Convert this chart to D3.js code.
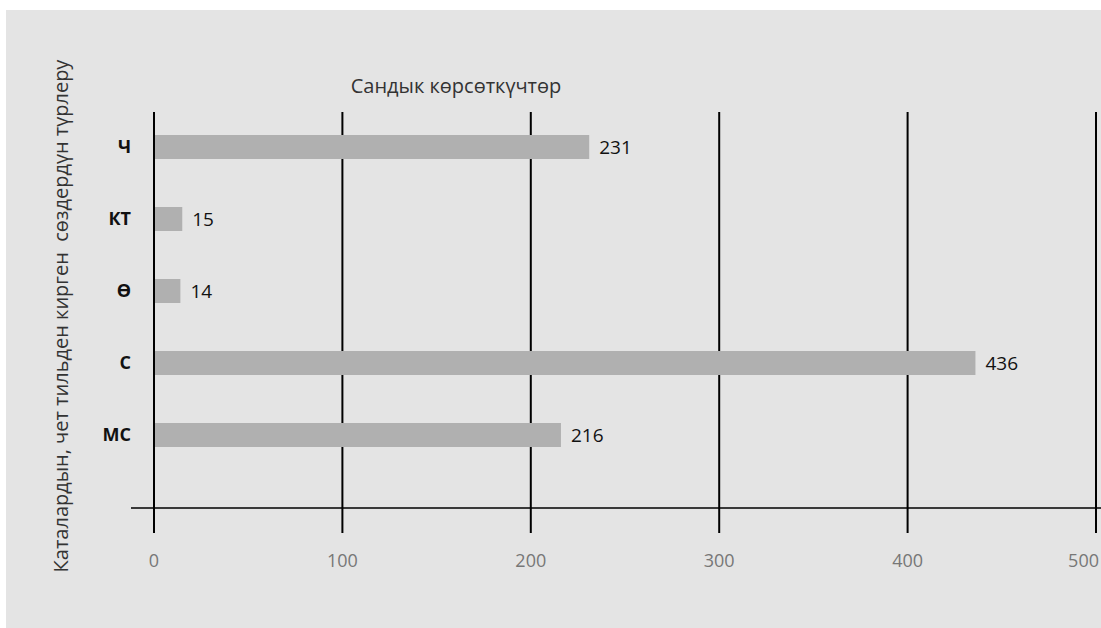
<!DOCTYPE html>
<html>
<head>
<meta charset="utf-8">
<script src="https://cdn.jsdelivr.net/npm/d3@7"></script>
<style>
    body { margin: 0; background: #fff; }
    svg { display: block; font-family: "Open Sans", "Noto Sans", sans-serif; }
</style>
</head>
<body>
<svg id="chart"></svg>
<script>
// data
const categories = ["Ч", "КТ", "Ө", "С", "МС"];
const values = [231, 15, 14, 436, 216];
const ticks = [0, 100, 200, 300, 400, 500];
const xTitle = "Сандык көрсөткүчтөр";
const yTitle = "Каталардын, чет тильден кирген  сөздердүн түрлеру";

const width = 1101, height = 628;

const svg = d3.select("#chart")
    .attr("width", width)
    .attr("height", height);

// grey panel
svg.append("rect")
    .attr("x", 6).attr("y", 10)
    .attr("width", width - 6).attr("height", height - 10)
    .attr("fill", "#e4e4e4");

const xScale = d3.scaleLinear().domain([0, 500]).range([154, 1096]);
const yScale = d3.scaleBand()
    .domain(categories)
    .range([111, 471])
    .paddingInner(2 / 3)
    .paddingOuter(1 / 3);

const axisY = 508;

// vertical grid lines (run through the axis as ticks)
svg.append("g")
    .selectAll("line")
    .data(ticks)
    .join("line")
    .attr("x1", d => xScale(d)).attr("x2", d => xScale(d))
    .attr("y1", 112).attr("y2", 533)
    .attr("stroke", "#000")
    .attr("stroke-width", 2);

// horizontal axis line
svg.append("line")
    .attr("x1", 131).attr("x2", width)
    .attr("y1", axisY).attr("y2", axisY)
    .attr("stroke", "#000")
    .attr("stroke-width", 1.6);

// tick labels
svg.append("g")
    .selectAll("text")
    .data(ticks)
    .join("text")
    .attr("x", d => d === 500 ? width - 2 : xScale(d))
    .attr("y", 567)
    .attr("text-anchor", d => d === 500 ? "end" : "middle")
    .attr("font-size", 18)
    .attr("fill", "#777")
    .text(d => d);

// bars
const rows = categories.map((c, i) => ({ cat: c, value: values[i] }));

svg.append("g")
    .selectAll("rect")
    .data(rows)
    .join("rect")
    .attr("x", xScale(0) + 1)
    .attr("y", d => yScale(d.cat))
    .attr("width", d => xScale(d.value) - xScale(0) - 1)
    .attr("height", yScale.bandwidth())
    .attr("fill", "#b0b0b0");

// value labels
svg.append("g")
    .selectAll("text")
    .data(rows)
    .join("text")
    .attr("x", d => xScale(d.value) + 10)
    .attr("y", d => yScale(d.cat) + yScale.bandwidth() / 2)
    .attr("dy", "0.35em")
    .attr("font-size", 19)
    .attr("fill", "#111")
    .text(d => d.value);

// category labels
svg.append("g")
    .selectAll("text")
    .data(rows)
    .join("text")
    .attr("x", 131)
    .attr("y", d => yScale(d.cat) + yScale.bandwidth() / 2)
    .attr("dy", "0.35em")
    .attr("text-anchor", "end")
    .attr("font-size", 18)
    .attr("font-weight", "bold")
    .attr("fill", "#111")
    .text(d => d.cat);

// titles
svg.append("text")
    .attr("x", 456).attr("y", 93)
    .attr("text-anchor", "middle")
    .attr("font-size", 20)
    .attr("fill", "#333")
    .text(xTitle);

svg.append("text")
    .attr("transform", "translate(68, 316) rotate(-90)")
    .attr("text-anchor", "middle")
    .attr("font-size", 20)
    .attr("fill", "#333")
    .style("white-space", "pre")
    .text(yTitle);
</script>
</body>
</html>
